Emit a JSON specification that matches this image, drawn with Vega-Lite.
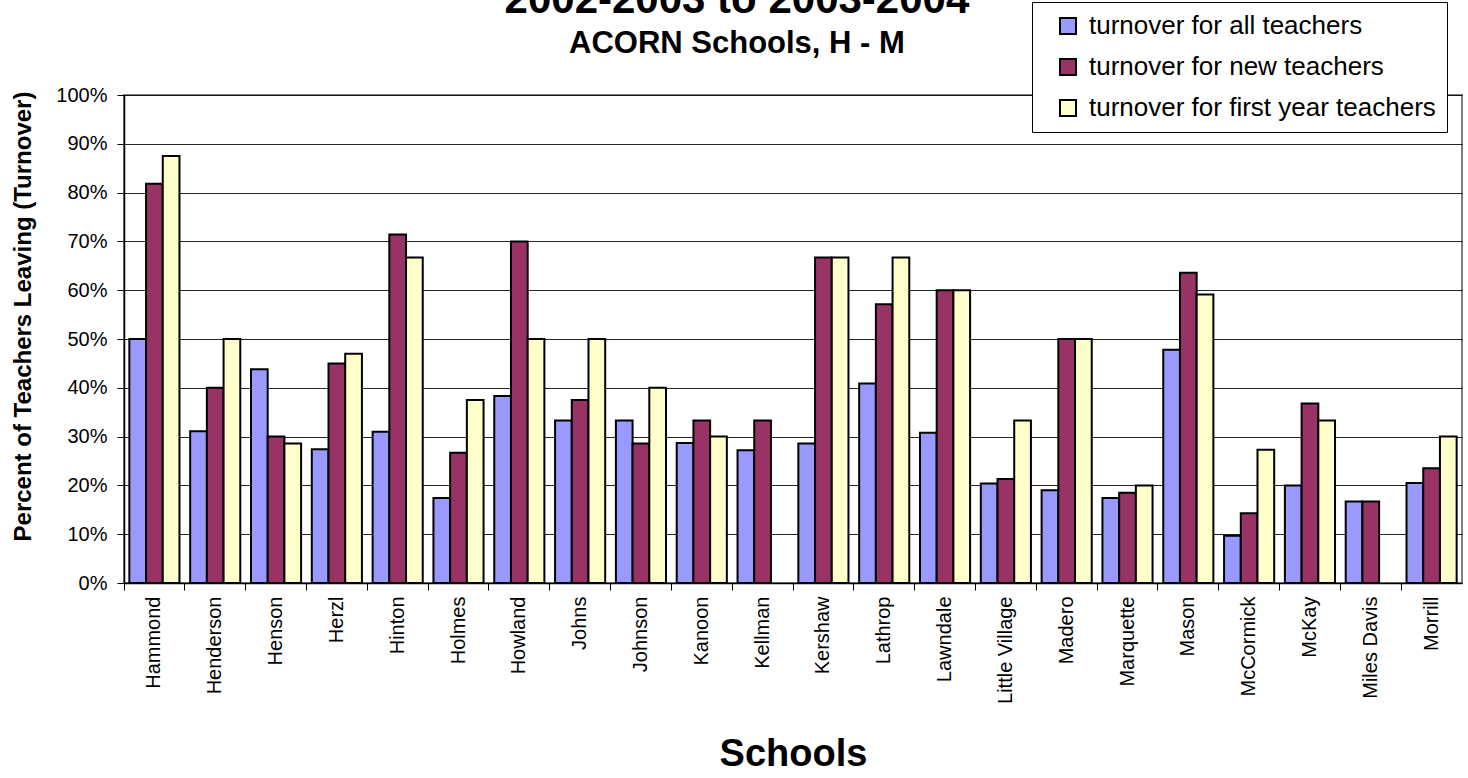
{
  "$schema": "https://vega.github.io/schema/vega-lite/v6.json",
  "autosize": "none",
  "width": 1338,
  "height": 488,
  "padding": {"left": 124, "top": 95, "right": 6, "bottom": 195},
  "background": "white",
  "config": {
    "font": "Liberation Sans",
    "view": {"stroke": "#808080", "strokeWidth": 2}
  },
  "title": {
    "text": "2002-2003 to 2003-2004",
    "subtitle": "ACORN Schools, H - M",
    "fontSize": 42,
    "fontWeight": "bold",
    "color": "black",
    "subtitleFontSize": 31,
    "subtitleFontWeight": "bold",
    "subtitleColor": "black",
    "subtitlePadding": 7,
    "anchor": "middle",
    "frame": "bounds",
    "offset": -58
  },
  "data": {
    "values": [
      {"school": "Hammond", "series": "turnover for all teachers", "value": 0.50},
      {"school": "Hammond", "series": "turnover for new teachers", "value": 0.818},
      {"school": "Hammond", "series": "turnover for first year teachers", "value": 0.875},
      {"school": "Henderson", "series": "turnover for all teachers", "value": 0.311},
      {"school": "Henderson", "series": "turnover for new teachers", "value": 0.40},
      {"school": "Henderson", "series": "turnover for first year teachers", "value": 0.50},
      {"school": "Henson", "series": "turnover for all teachers", "value": 0.438},
      {"school": "Henson", "series": "turnover for new teachers", "value": 0.30},
      {"school": "Henson", "series": "turnover for first year teachers", "value": 0.286},
      {"school": "Herzl", "series": "turnover for all teachers", "value": 0.274},
      {"school": "Herzl", "series": "turnover for new teachers", "value": 0.45},
      {"school": "Herzl", "series": "turnover for first year teachers", "value": 0.47},
      {"school": "Hinton", "series": "turnover for all teachers", "value": 0.31},
      {"school": "Hinton", "series": "turnover for new teachers", "value": 0.714},
      {"school": "Hinton", "series": "turnover for first year teachers", "value": 0.667},
      {"school": "Holmes", "series": "turnover for all teachers", "value": 0.174},
      {"school": "Holmes", "series": "turnover for new teachers", "value": 0.267},
      {"school": "Holmes", "series": "turnover for first year teachers", "value": 0.375},
      {"school": "Howland", "series": "turnover for all teachers", "value": 0.383},
      {"school": "Howland", "series": "turnover for new teachers", "value": 0.70},
      {"school": "Howland", "series": "turnover for first year teachers", "value": 0.50},
      {"school": "Johns", "series": "turnover for all teachers", "value": 0.333},
      {"school": "Johns", "series": "turnover for new teachers", "value": 0.375},
      {"school": "Johns", "series": "turnover for first year teachers", "value": 0.50},
      {"school": "Johnson", "series": "turnover for all teachers", "value": 0.333},
      {"school": "Johnson", "series": "turnover for new teachers", "value": 0.286},
      {"school": "Johnson", "series": "turnover for first year teachers", "value": 0.40},
      {"school": "Kanoon", "series": "turnover for all teachers", "value": 0.287},
      {"school": "Kanoon", "series": "turnover for new teachers", "value": 0.333},
      {"school": "Kanoon", "series": "turnover for first year teachers", "value": 0.30},
      {"school": "Kellman", "series": "turnover for all teachers", "value": 0.272},
      {"school": "Kellman", "series": "turnover for new teachers", "value": 0.333},
      {"school": "Kershaw", "series": "turnover for all teachers", "value": 0.286},
      {"school": "Kershaw", "series": "turnover for new teachers", "value": 0.667},
      {"school": "Kershaw", "series": "turnover for first year teachers", "value": 0.667},
      {"school": "Lathrop", "series": "turnover for all teachers", "value": 0.409},
      {"school": "Lathrop", "series": "turnover for new teachers", "value": 0.571},
      {"school": "Lathrop", "series": "turnover for first year teachers", "value": 0.667},
      {"school": "Lawndale", "series": "turnover for all teachers", "value": 0.308},
      {"school": "Lawndale", "series": "turnover for new teachers", "value": 0.60},
      {"school": "Lawndale", "series": "turnover for first year teachers", "value": 0.60},
      {"school": "Little Village", "series": "turnover for all teachers", "value": 0.204},
      {"school": "Little Village", "series": "turnover for new teachers", "value": 0.213},
      {"school": "Little Village", "series": "turnover for first year teachers", "value": 0.333},
      {"school": "Madero", "series": "turnover for all teachers", "value": 0.19},
      {"school": "Madero", "series": "turnover for new teachers", "value": 0.50},
      {"school": "Madero", "series": "turnover for first year teachers", "value": 0.50},
      {"school": "Marquette", "series": "turnover for all teachers", "value": 0.174},
      {"school": "Marquette", "series": "turnover for new teachers", "value": 0.185},
      {"school": "Marquette", "series": "turnover for first year teachers", "value": 0.20},
      {"school": "Mason", "series": "turnover for all teachers", "value": 0.478},
      {"school": "Mason", "series": "turnover for new teachers", "value": 0.636},
      {"school": "Mason", "series": "turnover for first year teachers", "value": 0.591},
      {"school": "McCormick", "series": "turnover for all teachers", "value": 0.097},
      {"school": "McCormick", "series": "turnover for new teachers", "value": 0.143},
      {"school": "McCormick", "series": "turnover for first year teachers", "value": 0.273},
      {"school": "McKay", "series": "turnover for all teachers", "value": 0.20},
      {"school": "McKay", "series": "turnover for new teachers", "value": 0.368},
      {"school": "McKay", "series": "turnover for first year teachers", "value": 0.333},
      {"school": "Miles Davis", "series": "turnover for all teachers", "value": 0.167},
      {"school": "Miles Davis", "series": "turnover for new teachers", "value": 0.167},
      {"school": "Morrill", "series": "turnover for all teachers", "value": 0.205},
      {"school": "Morrill", "series": "turnover for new teachers", "value": 0.235},
      {"school": "Morrill", "series": "turnover for first year teachers", "value": 0.30}
    ]
  },
  "mark": {"type": "bar", "stroke": "black", "strokeWidth": 2, "opacity": 1},
  "encoding": {
    "x": {
      "field": "school",
      "type": "nominal",
      "sort": null,
      "scale": {"paddingInner": 0, "paddingOuter": 0},
      "axis": {
        "title": "Schools",
        "titleFontSize": 38,
        "titleFontWeight": "bold",
        "titleColor": "black",
        "titlePadding": 32,
        "labelAngle": -90,
        "labelFontSize": 20,
        "labelColor": "black",
        "labelPadding": 6,
        "bandPosition": 0,
        "ticks": true,
        "tickSize": 7,
        "tickColor": "black",
        "domainColor": "black",
        "domainWidth": 1.5,
        "grid": false
      }
    },
    "xOffset": {
      "field": "series",
      "type": "nominal",
      "scale": {
        "domain": ["turnover for all teachers", "turnover for new teachers", "turnover for first year teachers"],
        "paddingInner": 0,
        "paddingOuter": 0.32
      }
    },
    "y": {
      "field": "value",
      "type": "quantitative",
      "scale": {"domain": [0, 1], "nice": false},
      "axis": {
        "title": "Percent of Teachers Leaving (Turnover)",
        "titleFontSize": 24,
        "titleFontWeight": "bold",
        "titleColor": "black",
        "titlePadding": 20,
        "titleY": 221,
        "format": ".0%",
        "values": [0, 0.1, 0.2, 0.3, 0.4, 0.5, 0.6, 0.7, 0.8, 0.9, 1],
        "labelFontSize": 20,
        "labelColor": "black",
        "labelPadding": 10,
        "tickSize": 7,
        "tickColor": "black",
        "domainColor": "black",
        "domainWidth": 1.5,
        "gridColor": "black",
        "gridWidth": 1,
        "gridOpacity": 0.85
      }
    },
    "color": {
      "field": "series",
      "type": "nominal",
      "scale": {
        "domain": ["turnover for all teachers", "turnover for new teachers", "turnover for first year teachers"],
        "range": ["#9999FF", "#993366", "#FFFFCC"]
      },
      "legend": {
        "title": null,
        "orient": "none",
        "legendX": 908,
        "legendY": -93,
        "fillColor": "white",
        "strokeColor": "black",
        "padding": 11,
        "symbolType": "square",
        "symbolSize": 256,
        "symbolStrokeColor": "black",
        "symbolStrokeWidth": 2,
        "symbolOpacity": 1,
        "symbolOffset": 12,
        "labelFontSize": 26,
        "labelColor": "black",
        "labelOffset": 8,
        "labelLimit": 500,
        "rowPadding": 15
      }
    }
  }
}
